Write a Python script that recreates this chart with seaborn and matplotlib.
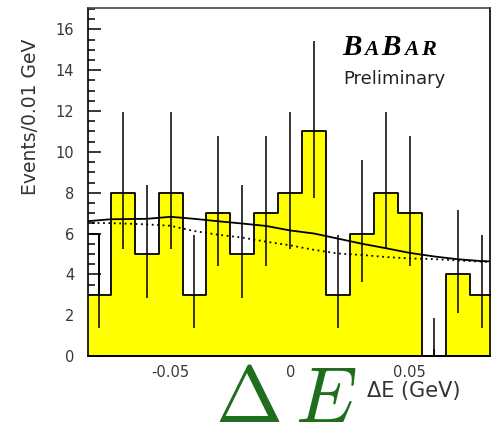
import matplotlib
matplotlib.use("Agg")
import matplotlib.pyplot as plt
import numpy as np
import pandas as pd
import seaborn as sns
from matplotlib.ticker import MultipleLocator, FixedLocator

# ---------------- data ----------------
bin_edges = [-0.085, -0.075, -0.065, -0.055, -0.045, -0.035, -0.025, -0.015, -0.005,
             0.005, 0.015, 0.025, 0.035, 0.045, 0.055, 0.065, 0.075, 0.085]
bin_centers = [-0.08, -0.07, -0.06, -0.05, -0.04, -0.03, -0.02, -0.01, 0.0,
               0.01, 0.02, 0.03, 0.04, 0.05, 0.06, 0.07, 0.08]
counts = [3, 8, 5, 8, 3, 7, 5, 7, 8, 11, 3, 6, 8, 7, 0, 4, 3]
err_low = [1.63, 2.76, 2.16, 2.76, 1.63, 2.58, 2.16, 2.58, 2.76, 3.26, 1.63, 2.38,
           2.76, 2.58, 0.0, 1.91, 1.63]
err_high = [2.92, 3.95, 3.38, 3.95, 2.92, 3.77, 3.38, 3.77, 3.95, 4.45, 2.92, 3.58,
            3.95, 3.77, 1.84, 3.16, 2.92]

# extra outline box at the left edge
box_x = [-0.085, -0.080]
box_height = 6

fit_x = [-0.085, -0.075, -0.06, -0.05, -0.04, -0.03, -0.02, -0.01, 0.0,
         0.01, 0.02, 0.03, 0.04, 0.05, 0.06, 0.07, 0.08, 0.085]
fit_total = [6.60, 6.70, 6.72, 6.82, 6.72, 6.60, 6.49, 6.37, 6.15,
             6.00, 5.75, 5.50, 5.28, 5.05, 4.88, 4.74, 4.65, 4.63]
fit_bkg = [6.52, 6.51, 6.45, 6.38, 6.12, 5.94, 5.80, 5.60, 5.42,
           5.20, 5.02, 4.95, 4.85, 4.78, 4.75, 4.68, 4.62, 4.60]

x_ticks = [-0.05, 0.0, 0.05]
x_ticklabels = ["-0.05", "0", "0.05"]
y_ticks = [0, 2, 4, 6, 8, 10, 12, 14, 16]

# ---------------- figure ----------------
plt.rcParams["font.family"] = ["DejaVu Sans"]
plt.rcParams["axes.unicode_minus"] = False
plt.rcParams["mathtext.fontset"] = "cm"

W, H = 492, 428
fig = plt.figure(figsize=(W / 100, H / 100), dpi=100)
ax = fig.add_axes([88 / W, 1 - 356 / H, (490 - 88) / W, (356 - 8) / H])

df = pd.DataFrame({"x": bin_centers, "n": counts})

# left edge box
ax.fill_between(box_x, 0, box_height, facecolor="white", edgecolor="black",
                linewidth=1.3, zorder=1)

sns.histplot(data=df, x="x", weights="n", bins=bin_edges, element="step",
             fill=True, color="#ffff00", alpha=1, edgecolor="black",
             linewidth=1.3, ax=ax, zorder=2)

ax.errorbar(bin_centers, counts, yerr=[err_low, err_high], fmt="none",
            ecolor="black", elinewidth=1.1, capsize=0, zorder=5)

sns.lineplot(x=fit_x, y=fit_bkg, color="black", linewidth=1.3,
             linestyle=(0, (1, 2)), ax=ax, zorder=4)
sns.lineplot(x=fit_x, y=fit_total, color="black", linewidth=1.3, ax=ax, zorder=4)

ax.set_xlim(-0.0845, 0.0835)
ax.set_ylim(0, 17.05)

ax.xaxis.set_major_locator(FixedLocator(x_ticks))
ax.set_xticklabels(x_ticklabels)
ax.xaxis.set_minor_locator(MultipleLocator(0.01))
ax.yaxis.set_major_locator(FixedLocator(y_ticks))
ax.yaxis.set_minor_locator(MultipleLocator(0.5))
ax.tick_params(axis="both", which="major", direction="in", length=9.5, width=1.1,
               labelsize=10.5, labelcolor="#383838", top=False, right=False)
ax.tick_params(axis="both", which="minor", direction="in", length=5, width=1.1,
               top=False, right=False)
ax.tick_params(axis="x", which="major", pad=6.5)
ax.tick_params(axis="y", which="major", pad=10)

for s in ax.spines.values():
    s.set_linewidth(1.2)
    s.set_color("black")
ax.spines["top"].set_color("#444444")

ax.set_ylabel("Events/0.01 GeV", fontsize=13.5, color="#333333")
ax.yaxis.set_label_coords((40 - 88) / 402, 1 - (116.5 - 8) / 348)
ax.set_xlabel("\u0394E (GeV)", fontsize=15, color="#333333", va="center")
ax.xaxis.set_label_coords((414 - 88) / 402, -(391 - 356) / 348)

# BaBar logo
fig.canvas.draw()
renderer = fig.canvas.get_renderer()
xpos = 342 / W
ybase = 1 - 55 / H
for s, fs in [("B", 21), ("A", 15.5), ("B", 21), ("A", 15.5), ("R", 16)]:
    t = fig.text(xpos, ybase, s, fontsize=fs, family="Liberation Serif",
                 weight="bold", style="italic", va="baseline", ha="left")
    w = t.get_window_extent(renderer).width
    xpos += (w + 3.0) / W

fig.text(394 / W, 1 - 83.5 / H, "Preliminary", fontsize=13, color="#222222",
         va="baseline", ha="center")

# big green label (Delta and E drawn as two pieces around the "0" tick label)
fig.text(248 / W, 1 - 422 / H, r"$\Delta$", fontsize=58, color="#1e6e1e",
         va="baseline", ha="center")
fig.text(326 / W, 1 - 422 / H, r"$E$", fontsize=56, color="#1e6e1e",
         va="baseline", ha="center")

fig.savefig("out.png", dpi=100)
